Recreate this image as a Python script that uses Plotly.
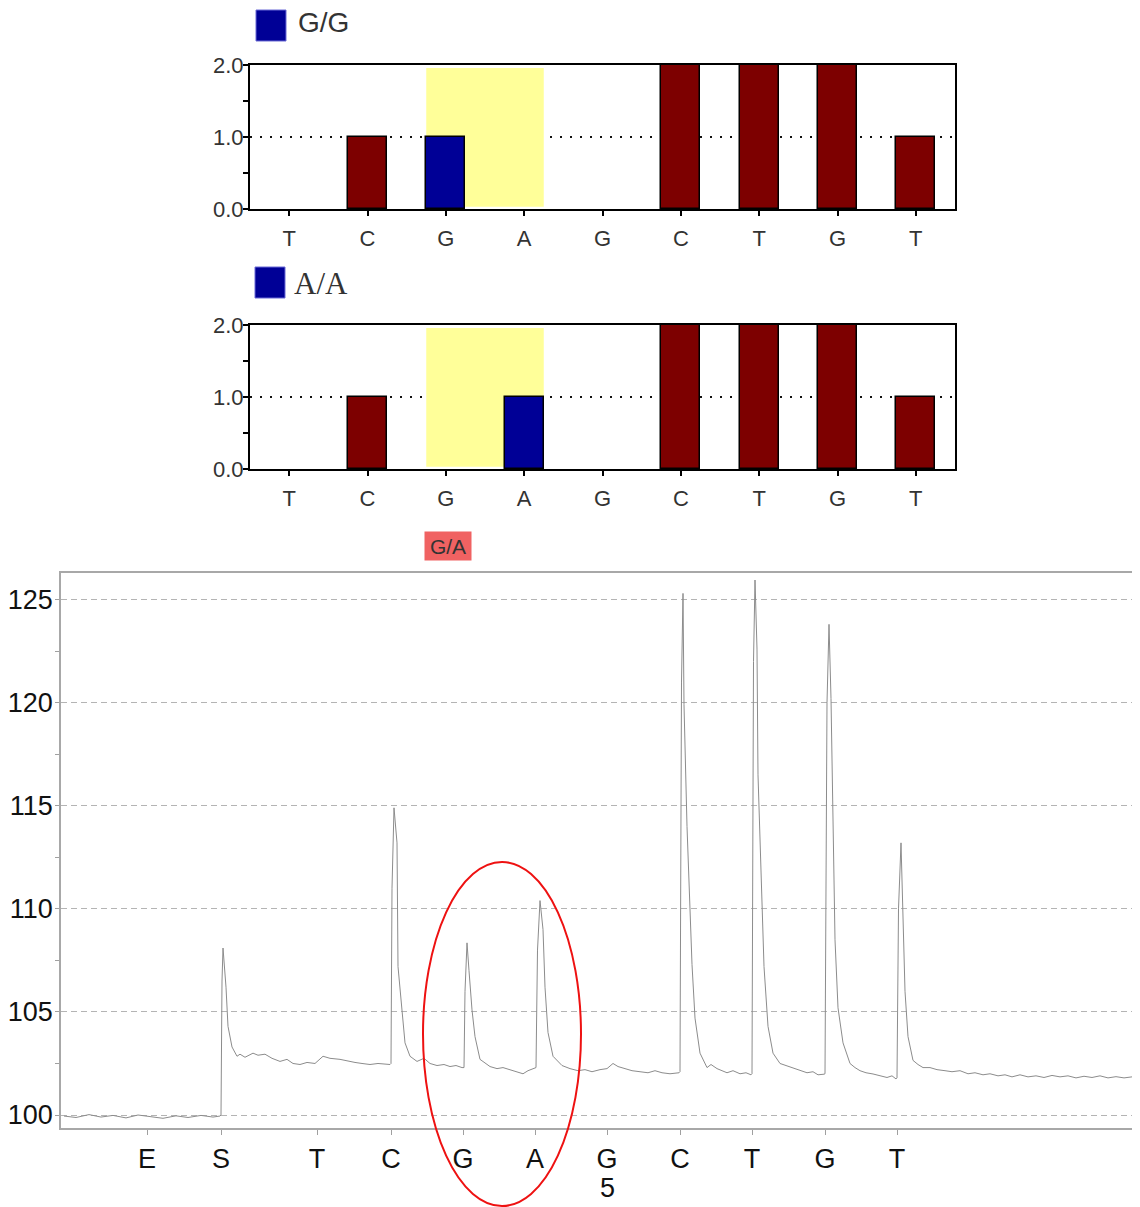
import plotly.graph_objects as go

# ---------------- data ----------------
dispensation = ["T", "C", "G", "A", "G", "C", "T", "G", "T"]
gg_values = [0, 1, 1, 0, 0, 2, 2, 2, 1]
aa_values = [0, 1, 0, 1, 0, 2, 2, 2, 1]
gg_variant_index = 2
aa_variant_index = 3
variant_span = [2, 3]          # G and A dispensations highlighted

pyro_labels = ["E", "S", "T", "C", "G", "A", "G", "C", "T", "G", "T"]
pyro_tick_pos = [8.6, 16.0, 25.6, 33.0, 40.2, 47.4, 54.6, 61.9, 69.1, 76.4, 83.6]
pyro_count_label = "5"
pyro_count_index = 6

pyro_time = [
    0.3, 1.5, 2.8, 4.0, 5.2, 6.5, 7.7, 9.0, 10.2, 11.5, 12.7, 14.0, 15.2, 15.9,
    16.0, 16.1, 16.2, 16.5, 16.7, 17.1, 17.6,
    17.9, 18.4, 19.2, 19.7, 20.4, 21.1, 21.9, 22.6, 23.2, 23.9, 24.6, 25.4, 26.2,
    26.9, 27.9, 28.7, 29.4, 30.1, 30.9, 31.7, 32.4, 32.9,
    33.0, 33.1, 33.3, 33.6, 33.7, 34.1, 34.4, 34.9, 35.6,
    36.3, 36.9, 37.6, 38.3, 38.9, 39.5, 40.1,
    40.3, 40.4, 40.6, 40.8, 41.1, 41.4, 41.9, 42.9, 43.6, 44.2, 44.9, 45.6, 46.2,
    46.7, 47.3,
    47.5, 47.65, 47.9, 48.2, 48.4, 48.7, 49.2, 50.1, 50.9, 51.7, 52.4, 53.1, 53.9,
    54.6, 55.2, 55.7, 56.4, 57.1, 57.9, 58.7, 59.4, 60.1, 60.9, 61.8,
    61.9, 62.05, 62.2, 62.3, 62.6, 62.9, 63.1, 63.4, 63.9, 64.6, 65.0, 65.6, 66.1,
    66.6, 67.2, 67.9, 68.5, 69.0,
    69.1, 69.25, 69.4, 69.6, 69.7, 70.0, 70.3, 70.7, 71.2, 71.9, 72.5, 73.2, 73.9,
    74.6, 75.2, 75.7, 76.3,
    76.4, 76.6, 76.8, 77.0, 77.2, 77.4, 77.7, 78.2, 78.9, 79.4, 79.9, 80.5, 81.2,
    81.9, 82.6, 83.1, 83.5,
    83.6, 83.75, 84.0, 84.1, 84.2, 84.4, 84.7, 85.2, 85.7, 86.2, 86.9, 87.6, 88.4,
    89.1, 89.9, 90.7, 91.4, 92.2, 92.9, 93.7, 94.4, 95.1, 95.9, 96.7, 97.5, 98.3,
    99.1, 99.9, 100.7, 101.5, 102.3, 103.1, 103.9, 104.7, 105.5, 106.3, 107.1, 107.9,
]
pyro_signal = [
    99.95, 99.88, 100.02, 99.90, 99.98, 99.86, 100.00, 99.92, 99.84, 99.96, 99.88, 99.98, 99.90, 99.95,
    100.0, 106.5, 108.1, 106.2, 104.3, 103.3, 102.85,
    102.95, 102.80, 103.00, 102.90, 102.95, 102.75, 102.60, 102.70, 102.50, 102.45, 102.55, 102.50, 102.85,
    102.75, 102.70, 102.60, 102.55, 102.50, 102.45, 102.50, 102.45, 102.45,
    102.5, 111.0, 114.9, 113.2, 107.2, 104.9, 103.5, 102.85, 102.6,
    102.75, 102.50, 102.40, 102.45, 102.35, 102.40, 102.30,
    102.3, 106.0, 108.35, 107.0, 105.1, 103.8, 102.7, 102.35, 102.25, 102.30, 102.20, 102.10, 102.00,
    102.15, 102.25,
    102.3, 108.0, 110.4, 109.0, 106.2, 104.0, 102.85, 102.40, 102.25, 102.15, 102.20, 102.10, 102.20,
    102.25, 102.50, 102.35, 102.25, 102.15, 102.10, 102.05, 102.15, 102.05, 102.00, 102.05,
    102.1, 121.0, 125.3, 119.9, 114.0, 109.5, 107.3, 104.7, 103.0, 102.3, 102.45, 102.25, 102.15,
    102.05, 102.15, 102.00, 102.05, 101.95,
    102.0, 122.0, 125.95, 122.6, 116.5, 111.9, 107.2, 104.3, 103.0, 102.5, 102.40, 102.25, 102.15,
    102.05, 102.10, 101.95, 101.98,
    102.0, 120.0, 123.8, 120.2, 113.5, 108.5, 105.2, 103.5, 102.5, 102.30, 102.15, 102.05, 101.99,
    101.90, 101.82, 101.90, 101.75,
    101.8, 110.0, 113.2, 111.4, 108.5, 106.0, 103.8, 102.65, 102.45, 102.30, 102.30, 102.20, 102.15,
    102.10, 102.15, 102.00, 102.05, 101.95, 102.00, 101.90, 101.95, 101.85, 101.95, 101.85, 101.90, 101.82,
    101.92, 101.85, 101.90, 101.80, 101.88, 101.82, 101.90, 101.80, 101.86, 101.80, 101.85, 101.82,
]

# ---------------- styles ----------------
PAGE_OFF = 8                      # default body margin of the html page
W, H = 1140 - PAGE_OFF, 1207 - PAGE_OFF
MAROON = "#7d0000"
NAVY = "#000096"
YELLOW = "#ffff99"
BAR_FONT = dict(family="Liberation Sans, Arial, sans-serif", size=22, color="#333333")
PYRO_FONT = dict(family="Liberation Sans, Arial, sans-serif", size=27, color="#111111")


def px_x(p):
    return (p - PAGE_OFF) / W


def px_y(p):
    return 1 - (p - PAGE_OFF) / H


fig = go.Figure()

x_idx = list(range(len(dispensation)))
for row, (vals, vidx) in enumerate([(gg_values, gg_variant_index), (aa_values, aa_variant_index)]):
    axn = "" if row == 0 else "2"
    colors = [NAVY if i == vidx else MAROON for i in x_idx]
    outline = [1.5 if v > 0 else 0 for v in vals]
    fig.add_trace(go.Bar(
        x=x_idx, y=vals, width=0.5,
        marker=dict(color=colors, line=dict(color="black", width=outline)),
        xaxis="x" + axn, yaxis="y" + axn, showlegend=False, hoverinfo="skip",
    ))

fig.add_trace(go.Scatter(
    x=pyro_time, y=pyro_signal, mode="lines",
    line=dict(color="#8c8c8c", width=1),
    xaxis="x3", yaxis="y3", showlegend=False, hoverinfo="skip",
))

bar_x = dict(
    range=[-0.5, len(dispensation) - 0.5], tickmode="array", tickvals=x_idx, ticktext=dispensation,
    showline=True, linecolor="black", linewidth=2, mirror=True, showgrid=False, zeroline=False,
    ticks="outside", ticklen=5, tickcolor="black", tickwidth=1.5, tickfont=BAR_FONT,
    ticklabelstandoff=4, automargin=False, fixedrange=True,
)
bar_y = dict(
    range=[0, 2], tickmode="array", tickvals=[0, 1, 2], ticktext=["0.0", "1.0", "2.0"],
    showline=True, linecolor="black", linewidth=2, mirror=True,
    showgrid=True, gridcolor="#111111", griddash="2px,8px", gridwidth=1.6, zeroline=False,
    ticks="outside", ticklen=5, tickcolor="black", tickwidth=1.5, tickfont=BAR_FONT,
    minor=dict(tickmode="array", tickvals=[0.5, 1.5], ticks="outside", ticklen=5,
               tickcolor="black", tickwidth=1.5, showgrid=False),
    ticklabelstandoff=-5, automargin=False, fixedrange=True,
)

fig.update_layout(
    width=W, height=H,
    margin=dict(l=0, r=0, t=0, b=0),
    paper_bgcolor="white", plot_bgcolor="white",
    bargap=0,
    xaxis=dict(bar_x, domain=[px_x(250), px_x(955)], anchor="y"),
    yaxis=dict(bar_y, domain=[px_y(209), px_y(65)], anchor="x"),
    xaxis2=dict(bar_x, domain=[px_x(250), px_x(955)], anchor="y2"),
    yaxis2=dict(bar_y, domain=[px_y(469), px_y(325)], anchor="x2"),
    xaxis3=dict(
        domain=[px_x(61), 1.0], anchor="y3", range=[0, 107.9],
        tickmode="array", tickvals=pyro_tick_pos, ticktext=pyro_labels,
        showline=True, linecolor="#a8a8a8", linewidth=1.5, mirror=True,
        showgrid=False, zeroline=False,
        ticks="outside", ticklen=5, tickcolor="#a0a0a0", tickwidth=1,
        tickfont=PYRO_FONT, ticklabelstandoff=1, automargin=False, fixedrange=True,
    ),
    yaxis3=dict(
        domain=[px_y(1128), px_y(573)], anchor="x3", range=[99.37, 126.29],
        tickmode="array", tickvals=[100, 105, 110, 115, 120, 125],
        showline=True, linecolor="#a8a8a8", linewidth=1.5, mirror=False,
        showgrid=True, gridcolor="#b4b4b4", griddash="6px,4px", gridwidth=1, zeroline=False,
        ticks="outside", ticklen=4, tickcolor="#a0a0a0", tickwidth=1,
        minor=dict(tickmode="array", tickvals=[102.5, 107.5, 112.5, 117.5, 122.5],
                   ticks="outside", ticklen=4, tickcolor="#a0a0a0", showgrid=False),
        tickfont=PYRO_FONT, ticklabelstandoff=-3, automargin=False, fixedrange=True,
    ),
)

# dispensation count below the 5th nucleotide
fig.add_annotation(xref="x3", yref="paper", x=pyro_tick_pos[pyro_count_index], y=px_y(1188),
                   xanchor="center", yanchor="middle", text=pyro_count_label, showarrow=False,
                   font=PYRO_FONT)

# yellow highlight of the variable position in both bar panels
for axn in ["", "2"]:
    fig.add_shape(
        type="rect", xref="x" + axn, yref="y" + axn,
        x0=variant_span[0] - 0.25, x1=variant_span[1] + 0.25, y0=0.03, y1=1.96,
        fillcolor=YELLOW, line=dict(width=0), layer="between",
    )

# legend swatches and labels
fig.add_shape(type="rect", xref="paper", yref="paper",
              x0=px_x(256), x1=px_x(286), y0=px_y(41), y1=px_y(10),
              fillcolor=NAVY, line=dict(color="#6b6bd6", width=1))
fig.add_annotation(xref="paper", yref="paper", x=px_x(296), y=px_y(23), xanchor="left", yanchor="middle",
                   text="G/G", showarrow=False,
                   font=dict(family="Liberation Sans, Arial, sans-serif", size=28, color="#333333"))
fig.add_shape(type="rect", xref="paper", yref="paper",
              x0=px_x(255), x1=px_x(285), y0=px_y(298), y1=px_y(267),
              fillcolor=NAVY, line=dict(color="#6b6bd6", width=1))
fig.add_annotation(xref="paper", yref="paper", x=px_x(292), y=px_y(284), xanchor="left", yanchor="middle",
                   text="A/A", showarrow=False,
                   font=dict(family="Liberation Serif, Times New Roman, serif", size=31, color="#333333"))

# genotype call box
fig.add_annotation(xref="paper", yref="paper", x=px_x(448), y=px_y(546), xanchor="center", yanchor="middle",
                   text="G/A", showarrow=False, bgcolor="#f06262", width=44, height=26,
                   font=dict(family="Liberation Sans, Arial, sans-serif", size=21, color="#333333"))

# red ellipse around the G/A peaks
fig.add_shape(type="circle", xref="paper", yref="paper",
              x0=px_x(423), x1=px_x(581), y0=px_y(1206), y1=px_y(862),
              line=dict(color="#ee1111", width=2), layer="above")

fig.write_html("out.html")
